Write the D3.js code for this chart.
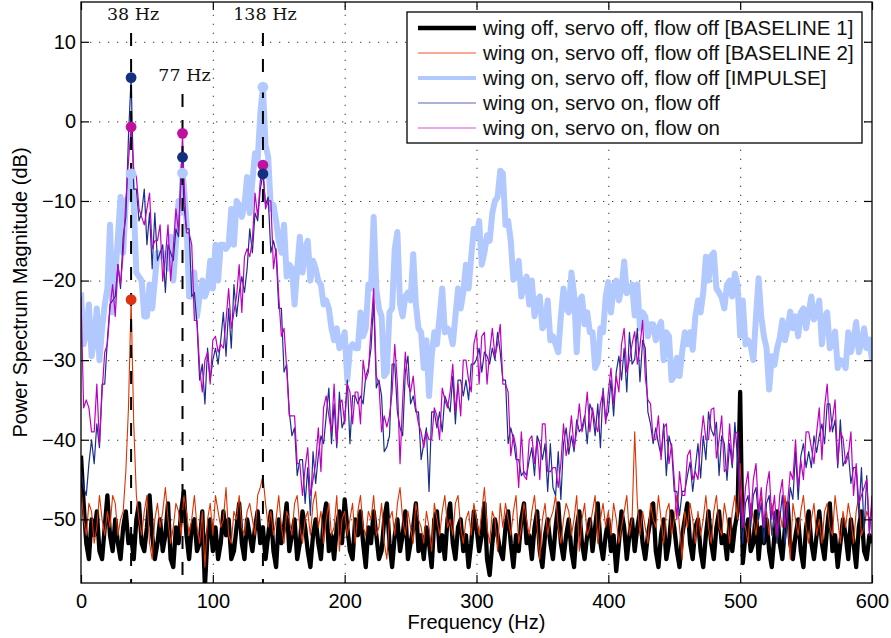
<!DOCTYPE html>
<html>
<head>
<meta charset="utf-8">
<script src="https://cdn.jsdelivr.net/npm/d3@7"></script>
<style>
  body { margin: 0; background: #fff; }
  svg { display: block; }
</style>
</head>
<body>
<svg id="chart" width="891" height="638"></svg>
<script>
// Power spectra sampled every 2 Hz from 0 to 600 Hz (dB)
const stepHz = 2;

const baseline1 = [
  -42, -48, -53, -55, -50, -52, -49, -54, -55, -51,
  -47, -52, -54, -50, -53, -55, -51, -49, -53, -52,
  -55, -50, -48, -53, -54, -51, -47, -52, -55, -53,
  -50, -54, -52, -48, -55, -56, -51, -53, -49, -46.5,
  -52, -55, -51, -50, -54, -53, -49, -58.5, -52, -50,
  -54, -51, -55, -53, -49, -52, -50, -55, -54, -51,
  -48, -53, -55, -50, -52, -54, -51, -49, -53, -51,
  -55, -52, -49, -54, -56, -50, -53, -51, -48, -54,
  -52, -50, -55, -53, -49, -51, -54, -56, -52, -50,
  -53, -55, -50, -48, -54, -52, -55, -51, -49, -53,
  -47.5, -51, -54, -55, -50, -52, -49, -53, -56, -51,
  -53, -49, -52, -55, -54, -50, -48, -53, -56, -52,
  -50, -54, -52, -49, -55, -53, -51, -48, -54, -52,
  -55, -51, -53, -56, -50, -49, -54, -52, -55, -50,
  -48, -53, -55, -51, -50, -54, -52, -56, -53, -49,
  -51, -54, -52, -48, -55, -57, -53, -50, -52, -54,
  -55, -51, -49, -53, -56, -52, -54, -50, -48, -53,
  -52, -55, -51, -49, -54, -56, -52, -50, -53, -55,
  -51, -48, -53, -55, -52, -50, -54, -56, -51, -49,
  -53, -55, -52, -50, -54, -51, -48, -53, -55, -52,
  -50, -54, -52, -56.5, -53, -49, -51, -55, -52, -50,
  -54, -51, -49, -53, -55, -52, -50, -48, -54, -56,
  -52, -50, -55, -53, -49, -51, -54, -56, -52, -50,
  -48, -53, -55, -51, -50, -54, -56, -52, -49, -53,
  -55, -51, -49, -53, -52, -55, -50, -54, -51, -49,
  -34, -55.5, -52, -50, -54, -53, -49, -55, -51, -53,
  -50, -54, -56, -52, -49, -53, -55, -51, -48, -53,
  -55, -52, -50, -54, -56, -51, -49, -53, -55, -52,
  -49, -53, -55, -51, -48, -54, -52, -56, -53, -50,
  -52, -55, -50, -53, -56, -51, -49, -54, -55, -52,
  -53
];

const baseline2 = [
  -46, -50, -52, -48, -49, -53, -51, -47, -50, -52,
  -49, -51, -47, -48, -52, -50, -49, -44, -36, -22.4,
  -38, -47, -50, -52, -49, -47, -53, -55, -50, -48,
  -51, -49, -46, -50, -53, -51, -48, -49, -52, -47,
  -49, -52, -50, -47, -51, -53, -49, -56, -50, -48,
  -52, -47, -49, -51, -50, -46, -52, -53, -49, -50,
  -47, -51, -52, -49, -48, -50, -52, -47, -46, -44.5,
  -48, -51, -49, -52, -50, -47, -51, -53, -49, -50,
  -52, -48, -47, -51, -53, -50, -49, -52, -48, -46.5,
  -51, -49, -53, -50, -48, -52, -51, -47, -54, -50,
  -49, -52, -50, -48, -53, -49, -47, -51, -52, -49,
  -50, -47, -52, -51, -48, -53, -55, -50, -49, -52,
  -48, -46, -50, -52, -49, -51, -53, -48, -50, -51,
  -53, -49, -51, -54, -48, -50, -52, -49, -47, -51,
  -50, -52, -48, -47, -51, -53, -50, -49, -52, -48,
  -50, -52, -49, -46, -51, -53, -49, -50, -54, -48,
  -51, -48, -50, -52, -49, -47, -53, -51, -48, -50,
  -52, -49, -47, -51, -55, -50, -48, -52, -50, -49,
  -47, -51, -53, -50, -48, -49, -52, -50, -47, -54,
  -50, -48, -52, -51, -49, -47, -53, -50, -48, -51,
  -49, -52, -48, -50, -53, -51, -49, -47, -52, -50,
  -39, -48, -52, -49, -51, -53, -48, -50, -51, -47,
  -50, -53, -49, -48, -52, -50, -47, -51, -55, -49,
  -51, -48, -50, -53, -49, -52, -50, -47, -51, -53,
  -49, -47, -51, -52, -48, -50, -53, -49, -47, -50,
  -43, -50, -51, -53, -48, -50, -52, -49, -47, -51,
  -49, -52, -48, -50, -53, -49, -51, -47, -50, -55,
  -48, -50, -52, -49, -47, -51, -53, -50, -48, -52,
  -50, -53, -49, -48, -51, -52, -47, -50, -53, -49,
  -51, -48, -50, -53, -49, -47, -52, -51, -49, -50,
  -49
];

const impulse = [
  -21.5, -28, -26.5, -23, -29.5, -27.5, -23.5, -30, -26, -23,
  -21, -13, -24, -19.5, -14.5, -9.5, -16.5, -10, -9.5, -6.6,
  -10.5, -19, -19.5, -20, -24.5, -24.5, -20.5, -23.5, -20, -16.5,
  -17, -16.5, -17, -18.5, -14.5, -20, -15.5, -10, -11.5, -8,
  -12.5, -22, -22, -19, -24.5, -22, -20, -22, -21, -17.5,
  -21, -15.5, -20, -15.5, -15.5, -16, -15.5, -11, -15.5, -10,
  -10.5, -12, -10.5, -7, -11.5, -7.5, -4, -5, 1, 4.3,
  -3, -4.5, -11, -10.5, -12.5, -15, -16.5, -13, -19.5, -18,
  -18.5, -23, -18.5, -14.5, -19, -16, -15, -20, -17.5, -18.5,
  -20, -20.5, -23, -22.5, -23.5, -26, -27.5, -26, -28.5, -28,
  -26.5, -32.5, -28.5, -28, -28.5, -28.5, -24, -27, -26, -20.5,
  -21, -12, -21, -23.5, -24.5, -32, -31.5, -24, -23.5, -16,
  -13.9, -23, -24.5, -22, -21.5, -22.5, -16.7, -23, -26, -26.5,
  -31, -27.5, -34.5, -29.5, -26.5, -28, -24.5, -21, -26.5, -26,
  -26.5, -28, -24.5, -21, -23.5, -21.5, -18, -21, -17, -13.5,
  -14.5, -12.5, -18, -16.5, -14.3, -15, -11.5, -10, -9.5, -6.2,
  -6.5, -13, -12.5, -15, -19.9, -19.5, -17.5, -22, -20.5, -19.5,
  -23, -20, -24.5, -22.5, -22, -26, -25.5, -22.5, -27.5, -27,
  -28, -29, -24.5, -21, -23.5, -24, -19, -21.6, -29, -22.5,
  -22, -25.5, -24, -26.5, -26.5, -31, -30.2, -26, -26.5, -22,
  -20.2, -24, -20.8, -20, -22.5, -21, -17.6, -21.6, -21, -20.5,
  -24.4, -20.5, -26, -24, -24.5, -27, -25.5, -25.5, -27.5, -26,
  -25.2, -30, -26.5, -27, -32.5, -32, -29.7, -32, -29, -26.5,
  -28, -26.5, -28.7, -24.5, -22.5, -24, -21.5, -17, -20, -16.9,
  -16.5, -21, -21.5, -22.2, -23.5, -20.5, -20, -22, -19.1, -20.5,
  -26.9, -22.5, -28, -27.5, -28.2, -30, -24.5, -19.7, -24.5, -27,
  -28.5, -33.7, -29.5, -30.6, -28.5, -27.2, -25, -27.5, -26, -23.9,
  -26, -24.5, -27, -24, -23.5, -26, -24, -22, -24.9, -24,
  -22.5, -28, -24.5, -24, -28.5, -28, -26.4, -31, -30, -30.2,
  -31, -26.5, -29, -27.5, -25.2, -29, -28, -26, -28.5, -27.4,
  -30
];

const servoFlowOff = [
  -44, -46, -47, -43, -40, -43, -38, -41, -33, -33,
  -27.5, -23, -22.5, -22, -18, -21, -14.5, -12, -2, 5.5,
  -8.5, -8.5, -12.5, -11.5, -8.5, -15.5, -11.5, -18.5, -11.5, -17.5,
  -16.5, -15.5, -21.5, -15.5, -16.5, -17.5, -13.5, -14.5, -5.5, -10.5,
  -13.5, -13.5, -22, -21.5, -25.5, -32.5, -30.5, -35.5, -28.5, -32.5,
  -30, -28.5, -30.5, -27.5, -24, -29.5, -23.5, -28.5, -20.5, -24.5,
  -21.5, -19.5, -21.5, -18.5, -13.5, -16.5, -11.5, -12.5, -8.5, -6.6,
  -10.5, -9.5, -16.5, -15, -16.5, -23.5, -23.5, -31.5, -30.5, -36.5,
  -39.5, -38.5, -44.5, -42.5, -42.5, -48, -43.5, -49.5, -41.5, -45.5,
  -42, -39.5, -40.5, -37, -33.5, -40.5, -35.5, -41, -34, -38.5,
  -37.5, -32.5, -40.5, -34.5, -34.5, -35.5, -34.5, -35.5, -32, -31,
  -28.5, -22.5, -33.5, -32.5, -34.5, -41.5, -40.9, -39.5, -30.5, -30.5,
  -36.5, -38.5, -39.5, -31.5, -29.5, -35.5, -34.5, -36.5, -36.5, -42.5,
  -40.5, -38.5, -46.5, -36.5, -36.5, -38.5, -36.5, -39, -34.5, -35.5,
  -36.5, -32, -38, -32.5, -32.5, -34.5, -32.5, -35, -30.5, -30.5,
  -29.9, -28.5, -31.5, -29, -29.5, -30.5, -28.5, -30, -26.5, -29,
  -32.5, -32.5, -40.5, -38.5, -39.9, -42.5, -42.5, -44.5, -44, -44.5,
  -42.5, -41, -44.5, -39.5, -40.5, -42.5, -40.5, -46.5, -40.5, -46,
  -47, -41.5, -47.5, -40.5, -38.5, -41.8, -39.5, -41.5, -37.5, -39,
  -38.5, -37, -40.5, -35.5, -36.5, -39.5, -35.5, -41, -33.5, -37.5,
  -36.5, -32.5, -37, -31.5, -29.5, -32.5, -28.5, -34, -26.5, -30.5,
  -29.9, -26, -32.7, -27.5, -28.5, -36.5, -38, -40.5, -38.5, -40.5,
  -42, -38, -44.5, -39.5, -41, -46.5, -46.5, -49.5, -46.5, -46.5,
  -44.5, -42.8, -46.5, -43.5, -40.5, -44.8, -39.5, -42.5, -36.5, -38.7,
  -39.5, -37.8, -44.5, -39.5, -40.5, -45.1, -40.5, -43.5, -37.8, -42.5,
  -48, -53, -48, -47, -51, -47, -46, -50, -48, -53,
  -48, -47, -52, -49, -53, -50, -47, -53, -50, -46,
  -47.5, -41.5, -47.5, -42.1, -40.5, -43.5, -41.5, -43.5, -39.5, -41.6,
  -39.5, -38, -40.5, -35.5, -35.5, -39, -37.5, -43.5, -37.5, -43.3,
  -42.5, -41.5, -45.5, -43.5, -43.5, -49.5, -43.5, -51.5, -44.5, -51.5,
  -48
];

const servoFlowOn = [
  -22, -36, -35, -36, -39, -39, -33, -40.5, -34, -29,
  -28, -23.5, -20.5, -24.5, -18, -20.5, -16.5, -10, -5, -0.7,
  -6, -7, -11, -12, -13, -11, -9, -16, -15, -15,
  -13, -20, -17, -13, -20, -16, -11, -14, -7, -7,
  -14, -14, -15.5, -25, -25, -31, -34, -30, -29, -33,
  -27.5, -27, -29, -28, -28.5, -25, -21, -26, -24, -22,
  -18, -24, -17, -16, -17, -15, -9, -12, -7.5, -5.5,
  -11, -10, -10, -18.5, -16, -22, -27, -26, -31, -37,
  -37, -37, -43, -43, -47, -43.5, -41, -47, -45, -43,
  -38.5, -44, -36, -34.5, -37, -39, -33, -40.5, -35.5, -35,
  -38, -33, -34, -38, -34, -34, -38, -30, -32.5, -31.5,
  -26, -21, -32, -33, -39, -37, -38.4, -37, -34, -28,
  -33, -43, -35, -29, -33, -34, -32, -36, -38, -39,
  -41, -39, -40, -40, -36, -37, -40, -33.5, -35, -36,
  -34, -30.5, -36.5, -33, -37, -30, -30, -32.5, -34, -28,
  -26.4, -33, -27, -26.5, -33, -29, -26, -29.5, -28, -25.5,
  -33, -33, -34, -42, -39.4, -41, -46, -39, -44.5, -45,
  -40, -39.5, -43, -40, -45, -38, -38, -44, -44, -43.5,
  -43.5, -46, -43, -38, -42, -40.3, -37, -41, -39, -35.5,
  -39, -37.5, -34, -39, -36, -38, -39, -35.5, -34, -38,
  -34, -31, -35.5, -32, -34, -28, -26, -31.5, -30, -28,
  -26.4, -30.5, -28.2, -25, -32, -35, -35.5, -40, -40, -37,
  -42.5, -38.5, -38, -43, -40.5, -45, -50, -44, -47, -47,
  -42, -41.3, -45, -44, -45, -40.3, -37, -40, -40, -36.2,
  -36, -42.3, -40, -37, -44, -43.6, -38, -43, -39.3, -39,
  -46, -51, -46, -44, -50, -45, -43, -49, -46, -51,
  -46, -44, -50, -47, -52, -47, -45, -51, -48, -44,
  -45, -40, -46, -42.6, -45, -39, -39, -41, -43, -39.1,
  -36, -42.5, -36, -33, -39, -37.5, -35, -43, -39, -39.8,
  -43, -42, -39, -47, -43, -48, -47, -46, -45, -52,
  -47
];

// Resonance peaks (Hz) and the spectrum level of each series there (dB)
const peakFreqs = [38, 77, 138];
const peakImpulse = [-6.6, -6.5, 4.3];
const peakFlowOff = [5.5, -4.5, -6.6];
const peakFlowOn = [-0.7, -1.5, -5.5];
const peakBaseline2 = [-22.4, null, null];

const xTicks = [0, 100, 200, 300, 400, 500, 600];
const yTicks = [-50, -40, -30, -20, -10, 0, 10];

const legendLabels = [
  "wing off, servo off, flow off [BASELINE 1]",
  "wing on, servo off, flow off [BASELINE 2]",
  "wing on, servo off, flow off [IMPULSE]",
  "wing on, servo on, flow off",
  "wing on, servo on, flow on"
];

// ---------------------------------------------------------------------------
const svg = d3.select("#chart");
const plot = { left: 81, right: 872, top: 2, bottom: 583 };

const x = d3.scaleLinear().domain([0, 600]).range([plot.left, plot.right]);
const y = d3.scaleLinear().domain([-58, 15]).range([plot.bottom, plot.top]);

const SANS = "'Liberation Sans', Arial, Helvetica, sans-serif";

// series styling, in drawing order (later ones on top)
const series = [
  { values: baseline1, peaks: null, color: "#000000", width: 4.3, label: legendLabels[0], legendWidth: 4.5 },
  { values: baseline2, peaks: peakBaseline2, color: "#dd3300", width: 1.1, label: legendLabels[1], legendWidth: 1, legendColor: "#f0522a", marker: "#dd3311" },
  { values: impulse, peaks: peakImpulse, color: "#b2c9ff", width: 6, label: legendLabels[2], legendWidth: 4, marker: "#b4caff" },
  { values: servoFlowOff, peaks: peakFlowOff, color: "#1b2f8c", width: 1.2, label: legendLabels[3], legendWidth: 1.2, legendColor: "#5a67b0", marker: "#15307f" },
  { values: servoFlowOn, peaks: peakFlowOn, color: "#c000c0", width: 1.2, label: legendLabels[4], legendWidth: 1.2, legendColor: "#d455d4", marker: "#c0109f" }
];

// sample points of a series, with its peak samples merged in
function seriesPoints(s) {
  const pts = s.values.map((v, i) => ({ f: i * stepHz, v }));
  if (s.peaks) {
    s.peaks.forEach((p, k) => {
      if (p == null) return;
      const f = peakFreqs[k];
      const hit = pts.find(d => d.f === f);
      if (hit) hit.v = p; else pts.push({ f, v: p });
    });
    pts.sort((a, b) => a.f - b.f);
  }
  return pts;
}

svg.append("defs").append("clipPath").attr("id", "plot-clip")
  .append("rect")
  .attr("x", plot.left).attr("y", plot.top)
  .attr("width", plot.right - plot.left).attr("height", plot.bottom - plot.top);

// dotted grid
const grid = svg.append("g").attr("class", "grid");
grid.append("g")
  .attr("transform", `translate(0,${plot.bottom})`)
  .call(d3.axisBottom(x).tickValues(xTicks.slice(1, -1)).tickSize(-(plot.bottom - plot.top)).tickFormat(""));
grid.append("g")
  .attr("transform", `translate(${plot.left},0)`)
  .call(d3.axisLeft(y).tickValues(yTicks).tickSize(-(plot.right - plot.left)).tickFormat(""));
grid.selectAll(".domain").remove();
grid.selectAll("line")
  .attr("stroke", "#3a3a3a")
  .attr("stroke-width", 1)
  .attr("stroke-dasharray", "1.3,7.7");

// spectra
const line = d3.line().x(d => x(d.f)).y(d => y(d.v));
const traces = svg.append("g").attr("clip-path", "url(#plot-clip)");
series.forEach(s => {
  traces.append("path")
    .datum(seriesPoints(s))
    .attr("fill", "none")
    .attr("stroke", s.color)
    .attr("stroke-width", s.width)
    .attr("stroke-linejoin", "round")
    .attr("d", line);
});

// resonance markers: dashed lines and labels
const peakLabelY = [20, 81, 20];
const ann = svg.append("g");
peakFreqs.forEach((f, k) => {
  ann.append("line")
    .attr("x1", x(f)).attr("x2", x(f))
    .attr("y1", peakLabelY[k] + 13).attr("y2", plot.bottom)
    .attr("stroke", "#000").attr("stroke-width", 2)
    .attr("stroke-dasharray", "13,13");
  ann.append("text")
    .attr("x", x(f) + 2).attr("y", peakLabelY[k])
    .attr("text-anchor", "middle")
    .attr("font-family", "'DejaVu Serif', 'Liberation Serif', serif")
    .attr("font-size", 17.5)
    .attr("fill", "#111")
    .text(`${f} Hz`);
});

// peak dots
const dotOrder = [4, 3, 2, 1];
dotOrder.forEach(si => {
  const s = series[si];
  s.peaks.forEach((p, k) => {
    if (p == null) return;
    svg.append("circle")
      .attr("cx", x(peakFreqs[k])).attr("cy", y(p))
      .attr("r", 5.4)
      .attr("fill", s.marker);
  });
});

// axes with inward ticks on all four sides
const axes = svg.append("g");
axes.append("g")
  .attr("transform", `translate(0,${plot.bottom})`)
  .call(d3.axisBottom(x).tickValues(xTicks).tickSizeInner(-8).tickSizeOuter(0).tickPadding(11).tickFormat(d3.format("d")));
axes.append("g")
  .attr("transform", `translate(${plot.left},0)`)
  .call(d3.axisLeft(y).tickValues(yTicks).tickSizeInner(-8).tickSizeOuter(0).tickPadding(5).tickFormat(d3.format("d")));
axes.append("g")
  .attr("transform", `translate(0,${plot.top})`)
  .call(d3.axisTop(x).tickValues(xTicks).tickSizeInner(-8).tickSizeOuter(0).tickFormat(""));
axes.append("g")
  .attr("transform", `translate(${plot.right},0)`)
  .call(d3.axisRight(y).tickValues(yTicks).tickSizeInner(-8).tickSizeOuter(0).tickFormat(""));
axes.selectAll(".domain").remove();
axes.selectAll(".tick line").attr("stroke", "#000").attr("stroke-width", 1.2);
axes.selectAll("text")
  .attr("font-family", SANS)
  .attr("font-size", 20)
  .attr("fill", "#000");

svg.append("rect")
  .attr("x", plot.left).attr("y", plot.top)
  .attr("width", plot.right - plot.left).attr("height", plot.bottom - plot.top)
  .attr("fill", "none").attr("stroke", "#000").attr("stroke-width", 1.3);

// axis titles
svg.append("text")
  .attr("x", (plot.left + plot.right) / 2).attr("y", 629)
  .attr("text-anchor", "middle")
  .attr("font-family", SANS).attr("font-size", 20)
  .text("Frequency (Hz)");
svg.append("text")
  .attr("transform", `translate(27,${(plot.top + plot.bottom) / 2}) rotate(-90)`)
  .attr("text-anchor", "middle")
  .attr("font-family", SANS).attr("font-size", 20)
  .text("Power Spectrum Magnitude (dB)");

// legend
const legend = svg.append("g");
legend.append("rect")
  .attr("x", 407).attr("y", 12).attr("width", 455).attr("height", 131)
  .attr("fill", "#fff").attr("stroke", "#000").attr("stroke-width", 1.3);
series.forEach((s, i) => {
  const cy = 28 + i * 25;
  legend.append("line")
    .attr("x1", 418).attr("x2", 476).attr("y1", cy).attr("y2", cy)
    .attr("stroke", s.legendColor || s.color)
    .attr("stroke-width", s.legendWidth);
  legend.append("text")
    .attr("x", 483).attr("y", cy)
    .attr("dy", "0.35em")
    .attr("font-family", SANS).attr("font-size", 20.5)
    .attr("fill", "#111")
    .text(s.label);
});
</script>
</body>
</html>
